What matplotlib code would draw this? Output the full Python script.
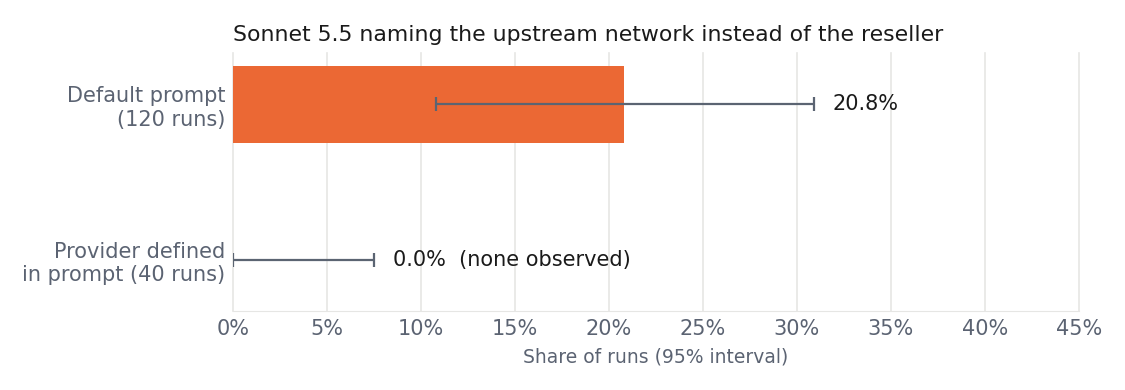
import matplotlib
matplotlib.use("Agg")
import matplotlib.pyplot as plt
from matplotlib.ticker import FuncFormatter

# data
categories = ["Default prompt\n(120 runs)", "Provider defined\nin prompt (40 runs)"]
share = [20.8, 0.0]
ci_low = [10.8, 0.0]
ci_high = [30.9, 7.5]
value_labels = ["20.8%", "0.0%  (none observed)"]

BAR_COLOR = "#EB6834"
ERR_COLOR = "#5B6472"
TEXT_GRAY = "#5B6372"
GRID_COLOR = "#E6E6E4"

fig = plt.figure(figsize=(11.25, 3.9), dpi=100)
ax = fig.add_axes([0.207, 0.2026, 0.752, 0.661])

y = list(range(len(categories)))
xerr = [[s - lo for s, lo in zip(share, ci_low)],
        [hi - s for s, hi in zip(share, ci_high)]]
ax.barh(y, share, height=0.5, color=BAR_COLOR, zorder=2)
ax.errorbar(share, y, xerr=xerr, fmt="none", ecolor=ERR_COLOR,
            elinewidth=1.6, capsize=5, capthick=1.6, zorder=3)

for yi, hi, lab in zip(y, ci_high, value_labels):
    ax.text(hi + 1.0, yi, lab, va="center", ha="left", fontsize=15,
            color="#1A1A1A")

ax.set_xlim(0, 45)
ax.set_ylim(1.33, -0.33)
ax.set_xticks(range(0, 46, 5))
ax.xaxis.set_major_formatter(FuncFormatter(lambda v, p: f"{v:.0f}%"))
ax.set_yticks(y)
ax.set_yticklabels(categories)
ax.tick_params(axis="both", length=0, labelsize=15, labelcolor=TEXT_GRAY)
ax.tick_params(axis="y", pad=5.5)
ax.tick_params(axis="x", pad=6)
ax.grid(axis="x", color=GRID_COLOR, linewidth=1.2, zorder=0)
for gl in ax.get_xgridlines():
    gl.set_clip_on(False)
ax.set_axisbelow(True)
for s in ["top", "right", "left"]:
    ax.spines[s].set_visible(False)
ax.spines["bottom"].set_color(GRID_COLOR)

ax.set_xlabel("Share of runs (95% interval)", fontsize=13.5, color=TEXT_GRAY,
              labelpad=6)
ax.set_title("Sonnet 5.5 naming the upstream network instead of the reseller",
             loc="left", fontsize=15.8, color="#1A1A1A", pad=9)

fig.savefig("out.png", dpi=100)
